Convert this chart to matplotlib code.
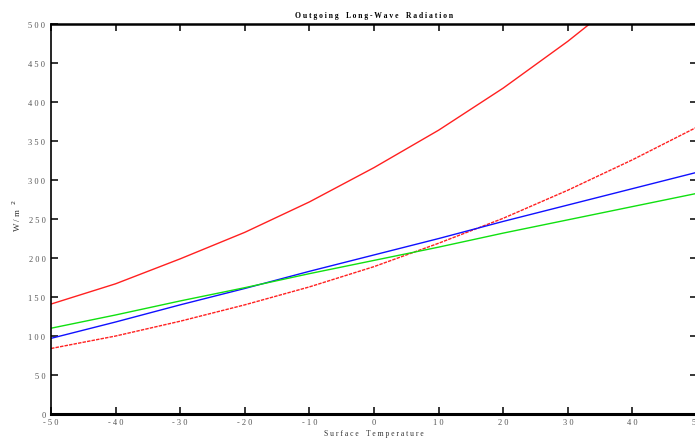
import numpy as np
import matplotlib
matplotlib.use("Agg")
import matplotlib.pyplot as plt

OUTPUT_PATH = "out.png"

# surface temperature (deg C)
temps = [-50, -40, -30, -20, -10, 0, 10, 20, 30, 40, 50]

# outgoing long-wave radiation (W/m2)
blackbody = [141, 167, 199, 233, 272, 316, 364, 418, 478, 544, 617]
gray_body = [84, 100, 119, 140, 163, 189, 219, 251, 287, 326, 368]
linear_fit_a = [97, 118, 140, 161, 183, 204, 225, 247, 268, 289, 310]
linear_fit_b = [110, 127, 145, 162, 180, 197, 214, 232, 249, 266, 283]

x_ticks = [-50, -40, -30, -20, -10, 0, 10, 20, 30, 40, 50]
y_ticks = [0, 50, 100, 150, 200, 250, 300, 350, 400, 450, 500]


def spaced(text):
    # old-style plot text had wide letter spacing
    return " ".join(text).replace("   ", "    ")


def plot_olr():
    fig = plt.figure(figsize=(6.95, 4.39), dpi=100)
    ax = fig.add_axes([0.0734, 0.0547, 0.9295, 0.888])

    ax.plot(temps, blackbody, color="#ff2020", linewidth=1.0)
    ax.plot(temps, gray_body, color="#ff2020", linewidth=1.0, linestyle=(0, (2.5, 0.8)))
    ax.plot(temps, linear_fit_a, color="#1010ff", linewidth=1.0)
    ax.plot(temps, linear_fit_b, color="#10e010", linewidth=1.0)

    ax.set_xlim(-50, 50)
    ax.set_ylim(0, 500)

    tick_font = {"family": "Liberation Serif", "size": 6, "color": "#555555"}
    ax.set_xticks(x_ticks)
    ax.set_xticklabels([spaced(str(t)) for t in x_ticks], fontdict=tick_font)
    ax.set_yticks(y_ticks)
    ax.set_yticklabels([spaced(str(t)) for t in y_ticks], fontdict=tick_font)

    ax.tick_params(direction="in", length=5, width=1.1, color="black",
                   top=True, right=True, labelright=False, labeltop=False)
    ax.tick_params(axis="x", pad=3)
    ax.tick_params(axis="y", pad=4)

    ax.spines["bottom"].set_linewidth(2.2)
    ax.spines["top"].set_linewidth(1.8)
    ax.spines["left"].set_linewidth(1.2)
    ax.spines["right"].set_linewidth(1.2)

    ax.set_title(spaced("Outgoing Long-Wave Radiation"), family="Liberation Serif",
                 fontsize=5.5, fontweight="bold", pad=5)
    ax.set_xlabel(spaced("Surface Temperature"), family="Liberation Serif",
                  fontsize=5.5, color="#333333", labelpad=2)
    ax.set_ylabel(r"W / m  $^{2}$", family="Liberation Serif",
                  fontsize=6.5, color="#333333")
    ax.yaxis.set_label_coords(-0.044, 0.51)

    fig.savefig(OUTPUT_PATH, dpi=100)
    plt.close(fig)


if __name__ == "__main__":
    plot_olr()
